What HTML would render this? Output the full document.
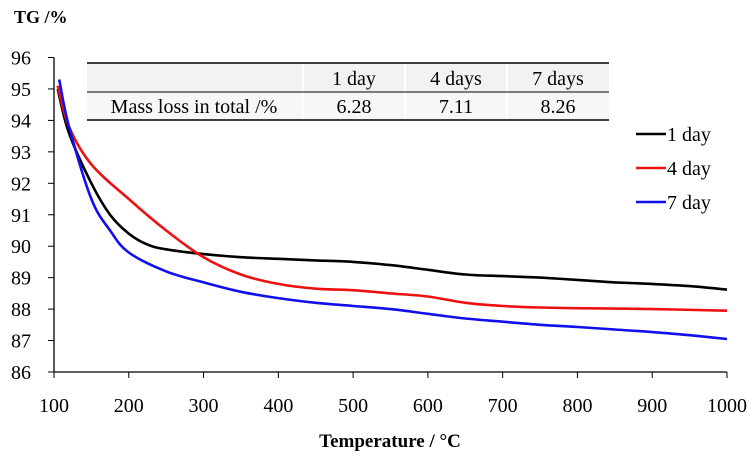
<!DOCTYPE html>
<html><head><meta charset="utf-8"><style>
body{margin:0;background:#fff;}
svg{display:block;font-family:"Liberation Serif",serif;}
</style></head><body>
<svg id="chart" width="754" height="461">
<text x="14" y="23" font-size="18" font-weight="bold">TG /%</text>
<text x="390" y="447" font-size="19" font-weight="bold" text-anchor="middle">Temperature / °C</text>
<g id="axes"></g>
<g id="series"></g>
<g>
<rect x="87" y="63" width="522" height="29" fill="#f2f2f2"/>
<rect x="87" y="92" width="522" height="28" fill="#f7f7f7"/>
<line x1="303" y1="63" x2="303" y2="120" stroke="#fff" stroke-width="2"/>
<line x1="405" y1="63" x2="405" y2="120" stroke="#fff" stroke-width="2"/>
<line x1="507" y1="63" x2="507" y2="120" stroke="#fff" stroke-width="2"/>
<line x1="87" y1="63" x2="609" y2="63" stroke="#000" stroke-width="1.5"/>
<line x1="87" y1="92" x2="609" y2="92" stroke="#000" stroke-width="1"/>
<line x1="87" y1="120" x2="609" y2="120" stroke="#000" stroke-width="1.5"/>
<g font-size="20" text-anchor="middle">
<text x="354" y="85">1 day</text>
<text x="456" y="85">4 days</text>
<text x="558" y="85">7 days</text>
<text x="194" y="113">Mass loss in total /%</text>
<text x="354" y="113">6.28</text>
<text x="456" y="113">7.11</text>
<text x="558" y="113">8.26</text>
</g></g>
<g id="legend" font-size="20"></g>
</svg>
<script>
const yTicks=[86,87,88,89,90,91,92,93,94,95,96];
const xTicks=[100,200,300,400,500,600,700,800,900,1000];
const seriesNames=["1 day","4 day","7 day"];
const seriesColors=["#000000","#ee1111","#1010ee"];
const t1=[105,120,150,175,200,225,250,300,350,400,450,500,550,600,650,700,750,800,850,900,950,1000];
const v1=[95.0,93.6,92.0,91.0,90.4,90.05,89.9,89.75,89.65,89.6,89.55,89.5,89.4,89.25,89.1,89.05,89.0,88.93,88.85,88.8,88.73,88.62];
const t2=[105,120,150,200,250,300,350,400,450,500,550,600,650,700,750,800,900,1000];
const v2=[95.1,93.8,92.6,91.5,90.5,89.65,89.1,88.8,88.65,88.6,88.5,88.4,88.2,88.1,88.05,88.03,88.0,87.95];
const t3=[107,120,150,175,200,250,300,350,400,450,500,550,600,650,700,750,800,850,900,950,1000];
const v3=[95.3,93.8,91.5,90.5,89.8,89.2,88.85,88.55,88.35,88.2,88.1,88.0,87.85,87.7,87.6,87.5,87.43,87.35,87.27,87.17,87.05];
const X=t=>54+(t-100)*(727-54)/900;
const Y=v=>372-(v-86)*31.45;
const NS="http://www.w3.org/2000/svg";
function mk(tag,attrs,parent){const e=document.createElementNS(NS,tag);for(const k in attrs)e.setAttribute(k,attrs[k]);parent.appendChild(e);return e;}
function smooth(pts){
 let d='M'+pts[0][0].toFixed(1)+','+pts[0][1].toFixed(1);
 for(let i=0;i<pts.length-1;i++){
  const p0=pts[Math.max(0,i-1)],p1=pts[i],p2=pts[i+1],p3=pts[Math.min(pts.length-1,i+2)];
  const c1=[p1[0]+(p2[0]-p0[0])/6,p1[1]+(p2[1]-p0[1])/6];
  const c2=[p2[0]-(p3[0]-p1[0])/6,p2[1]-(p3[1]-p1[1])/6];
  d+='C'+c1[0].toFixed(1)+','+c1[1].toFixed(1)+' '+c2[0].toFixed(1)+','+c2[1].toFixed(1)+' '+p2[0].toFixed(1)+','+p2[1].toFixed(1);
 }
 return d;
}
const ax=document.getElementById('axes');
let yl=mk('line',{x1:54,y1:Y(96),x2:54,y2:372,stroke:'#000','stroke-width':1.3},ax);


let xl=mk('line',{x1:54,y1:372,x2:727,y2:372,stroke:'#000','stroke-width':1.3},ax);


yTicks.forEach(v=>{
 mk('line',{x1:48,y1:Y(v),x2:54,y2:Y(v),stroke:'#000'},ax);
 const t=mk('text',{x:31,y:Y(v)+7,'font-size':20,'text-anchor':'end'},ax);t.textContent=v;
 
 
});
xTicks.forEach(v=>{
 mk('line',{x1:X(v),y1:372,x2:X(v),y2:378,stroke:'#000'},ax);
 const t=mk('text',{x:X(v),y:412,'font-size':20,'text-anchor':'middle'},ax);t.textContent=v;
 
 
});
const sg=document.getElementById('series');
[[t1,v1],[t2,v2],[t3,v3]].forEach((s,i)=>{
 const pts=s[0].map((t,j)=>[X(t),Y(s[1][j])]);
 const p=mk('path',{d:smooth(pts),fill:'none',stroke:seriesColors[i],'stroke-width':2.6,'stroke-linejoin':'round'},sg);
 
 
});
const lg=document.getElementById('legend');
seriesNames.forEach((n,i)=>{
 const y=134+i*34;
 const g=mk('g',{},lg);
 
 
 mk('line',{x1:636,y1:y,x2:666,y2:y,stroke:seriesColors[i],'stroke-width':2.6},g);
 const t=mk('text',{x:667,y:y+7},g);t.textContent=n;
});
</script>
</body></html>
